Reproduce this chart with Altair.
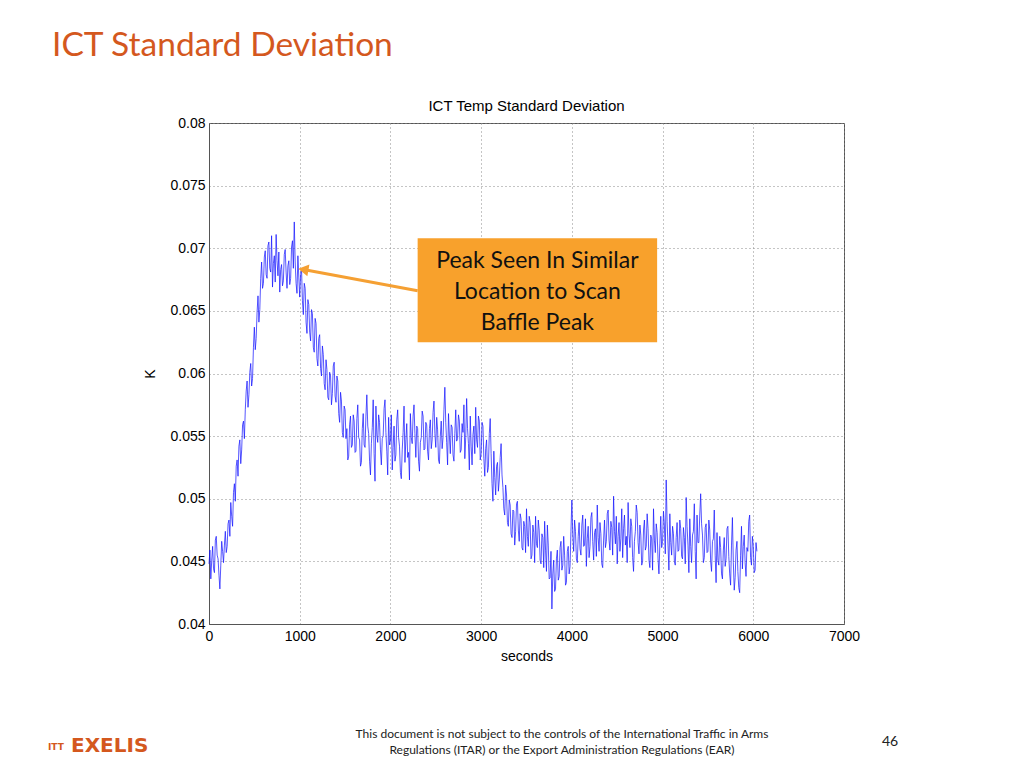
import altair as alt
import pandas as pd

# sample times (s) and standard deviation (K)
seconds = list(range(0, 6041, 10))
std_k = [
    0.0448, 0.0459, 0.0436, 0.0451, 0.0462, 0.0444, 0.0441, 0.0467, 0.0470, 0.0455, 0.0452, 0.0439, 0.0428, 0.0447, 0.0466, 0.0458, 0.0449, 0.0463, 0.0474, 0.0457,
    0.0462, 0.0480, 0.0483, 0.0470, 0.0497, 0.0486, 0.0478, 0.0505, 0.0512, 0.0498, 0.0526, 0.0531, 0.0518, 0.0542, 0.0547, 0.0528, 0.0539, 0.0559, 0.0562, 0.0548,
    0.0571, 0.0586, 0.0594, 0.0573, 0.0583, 0.0601, 0.0608, 0.0590, 0.0596, 0.0621, 0.0637, 0.0619, 0.0628, 0.0649, 0.0662, 0.0641, 0.0651, 0.0676, 0.0689, 0.0668,
    0.0672, 0.0693, 0.0698, 0.0679, 0.0676, 0.0702, 0.0705, 0.0684, 0.0681, 0.0710, 0.0669, 0.0688, 0.0694, 0.0673, 0.0711, 0.0690, 0.0678, 0.0697, 0.0665, 0.0683,
    0.0687, 0.0670, 0.0674, 0.0695, 0.0699, 0.0681, 0.0668, 0.0686, 0.0690, 0.0671, 0.0676, 0.0701, 0.0706, 0.0684, 0.0721, 0.0689, 0.0672, 0.0664, 0.0694, 0.0677,
    0.0661, 0.0679, 0.0684, 0.0658, 0.0647, 0.0672, 0.0668, 0.0641, 0.0632, 0.0659, 0.0655, 0.0633, 0.0626, 0.0651, 0.0648, 0.0621, 0.0617, 0.0644, 0.0640, 0.0612,
    0.0606, 0.0628, 0.0631, 0.0604, 0.0598, 0.0622, 0.0615, 0.0592, 0.0587, 0.0611, 0.0603, 0.0581, 0.0579, 0.0601, 0.0598, 0.0575, 0.0584, 0.0606, 0.0609, 0.0582,
    0.0577, 0.0598, 0.0594, 0.0568, 0.0561, 0.0585, 0.0578, 0.0553, 0.0549, 0.0574, 0.0571, 0.0548, 0.0556, 0.0531, 0.0534, 0.0559, 0.0566, 0.0541, 0.0543, 0.0567,
    0.0562, 0.0537, 0.0538, 0.0564, 0.0575, 0.0549, 0.0547, 0.0526, 0.0529, 0.0556, 0.0568, 0.0543, 0.0541, 0.0566, 0.0583, 0.0558, 0.0552, 0.0530, 0.0519, 0.0544,
    0.0557, 0.0579, 0.0536, 0.0514, 0.0574, 0.0551, 0.0545, 0.0567, 0.0561, 0.0539, 0.0527, 0.0548, 0.0550, 0.0572, 0.0579, 0.0553, 0.0538, 0.0519, 0.0565, 0.0543,
    0.0546, 0.0567, 0.0523, 0.0541, 0.0558, 0.0530, 0.0535, 0.0563, 0.0571, 0.0549, 0.0542, 0.0521, 0.0516, 0.0539, 0.0553, 0.0574, 0.0529, 0.0547, 0.0560, 0.0533,
    0.0537, 0.0515, 0.0568, 0.0549, 0.0544, 0.0566, 0.0575, 0.0552, 0.0533, 0.0558, 0.0556, 0.0530, 0.0522, 0.0545, 0.0549, 0.0570, 0.0566, 0.0539, 0.0540, 0.0561,
    0.0559, 0.0538, 0.0531, 0.0556, 0.0563, 0.0540, 0.0547, 0.0569, 0.0578, 0.0552, 0.0541, 0.0565, 0.0555, 0.0531, 0.0528, 0.0550, 0.0562, 0.0540, 0.0549, 0.0571,
    0.0589, 0.0561, 0.0545, 0.0527, 0.0568, 0.0550, 0.0536, 0.0559, 0.0557, 0.0535, 0.0530, 0.0552, 0.0571, 0.0546, 0.0548, 0.0567, 0.0562, 0.0537, 0.0539, 0.0560,
    0.0553, 0.0575, 0.0532, 0.0549, 0.0580, 0.0556, 0.0544, 0.0523, 0.0566, 0.0542, 0.0527, 0.0551, 0.0558, 0.0536, 0.0573, 0.0547, 0.0541, 0.0566, 0.0562, 0.0531,
    0.0536, 0.0561, 0.0558, 0.0532, 0.0518, 0.0540, 0.0547, 0.0521, 0.0525, 0.0552, 0.0564, 0.0536, 0.0512, 0.0498, 0.0538, 0.0517, 0.0503, 0.0526, 0.0529, 0.0506,
    0.0515, 0.0533, 0.0544, 0.0519, 0.0509, 0.0492, 0.0487, 0.0511, 0.0503, 0.0481, 0.0478, 0.0499, 0.0495, 0.0472, 0.0469, 0.0491, 0.0490, 0.0463, 0.0474, 0.0496,
    0.0498, 0.0475, 0.0466, 0.0488, 0.0484, 0.0461, 0.0459, 0.0482, 0.0478, 0.0457, 0.0492, 0.0470, 0.0462, 0.0486, 0.0481, 0.0452, 0.0455, 0.0479, 0.0473, 0.0449,
    0.0486, 0.0464, 0.0461, 0.0483, 0.0475, 0.0451, 0.0448, 0.0472, 0.0469, 0.0445, 0.0482, 0.0459, 0.0442, 0.0479, 0.0463, 0.0436, 0.0437, 0.0458, 0.0412, 0.0440,
    0.0451, 0.0426, 0.0428, 0.0452, 0.0459, 0.0435, 0.0438, 0.0461, 0.0466, 0.0443, 0.0447, 0.0470, 0.0455, 0.0431, 0.0433, 0.0458, 0.0462, 0.0440, 0.0446, 0.0474,
    0.0499, 0.0471, 0.0458, 0.0483, 0.0474, 0.0452, 0.0449, 0.0470, 0.0481, 0.0460, 0.0455, 0.0479, 0.0487, 0.0462, 0.0463, 0.0484, 0.0446, 0.0468, 0.0478, 0.0453,
    0.0462, 0.0485, 0.0489, 0.0466, 0.0451, 0.0473, 0.0476, 0.0454, 0.0495, 0.0469, 0.0458, 0.0481, 0.0472, 0.0448, 0.0445, 0.0467, 0.0483, 0.0461, 0.0466, 0.0488,
    0.0491, 0.0467, 0.0459, 0.0482, 0.0477, 0.0455, 0.0502, 0.0474, 0.0464, 0.0486, 0.0448, 0.0470, 0.0481, 0.0458, 0.0468, 0.0492, 0.0453, 0.0476, 0.0487, 0.0463,
    0.0470, 0.0449, 0.0497, 0.0472, 0.0461, 0.0484, 0.0478, 0.0453, 0.0442, 0.0466, 0.0474, 0.0495, 0.0489, 0.0465, 0.0456, 0.0479, 0.0471, 0.0447, 0.0450, 0.0475,
    0.0483, 0.0459, 0.0462, 0.0488, 0.0476, 0.0451, 0.0445, 0.0471, 0.0468, 0.0443, 0.0492, 0.0467, 0.0457, 0.0480, 0.0473, 0.0452, 0.0440, 0.0464, 0.0486, 0.0461,
    0.0466, 0.0490, 0.0479, 0.0456, 0.0515, 0.0482, 0.0463, 0.0443, 0.0488, 0.0465, 0.0455, 0.0478, 0.0472, 0.0450, 0.0447, 0.0469, 0.0481, 0.0458, 0.0459, 0.0483,
    0.0476, 0.0454, 0.0452, 0.0477, 0.0469, 0.0448, 0.0501, 0.0478, 0.0463, 0.0441, 0.0484, 0.0462, 0.0449, 0.0471, 0.0474, 0.0496, 0.0458, 0.0436, 0.0487, 0.0465,
    0.0465, 0.0487, 0.0504, 0.0480, 0.0471, 0.0449, 0.0453, 0.0477, 0.0480, 0.0457, 0.0458, 0.0483, 0.0475, 0.0450, 0.0442, 0.0466, 0.0468, 0.0491, 0.0455, 0.0433,
    0.0473, 0.0451, 0.0447, 0.0470, 0.0461, 0.0440, 0.0436, 0.0459, 0.0469, 0.0446, 0.0452, 0.0476, 0.0478, 0.0454, 0.0440, 0.0431, 0.0463, 0.0485, 0.0449, 0.0427,
    0.0437, 0.0459, 0.0466, 0.0442, 0.0429, 0.0425, 0.0455, 0.0478, 0.0444, 0.0462, 0.0471, 0.0449, 0.0438, 0.0461, 0.0458, 0.0482, 0.0487, 0.0453, 0.0447, 0.0470,
    0.0462, 0.0441, 0.0443, 0.0465, 0.0458,
]

x_ticks = [0, 1000, 2000, 3000, 4000, 5000, 6000, 7000]
y_ticks = [0.04, 0.045, 0.05, 0.055, 0.06, 0.065, 0.07, 0.075, 0.08]

slide_title = "ICT Standard Deviation"
plot_title = "ICT Temp Standard Deviation"
note_text = "Peak Seen In Similar\nLocation to Scan\nBaffle Peak"
footer_text = ("This document is not subject to the controls of the International Traffic in Arms\n"
               "Regulations (ITAR) or the Export Administration Regulations (EAR)")
page_no = "46"

# annotation box and arrow, in data coordinates
note_box = {"x": 2300, "x2": 4940, "y": 0.0625, "y2": 0.0708}
arrow = {"x": 2300, "y": 0.0666, "x2": 1040, "y2": 0.0683}

W, H = 635, 501
df = pd.DataFrame({"seconds": seconds, "std": std_k})

xscale = alt.Scale(domain=[0, 7000], nice=False, zero=False)
yscale = alt.Scale(domain=[0.04, 0.08], nice=False, zero=False)

line = alt.Chart(df).mark_line(color="#1414ff", strokeWidth=0.8, opacity=0.9).encode(
    x=alt.X("seconds:Q", scale=xscale,
            axis=alt.Axis(values=x_ticks, format="d", title="seconds", titlePadding=6,
                          labelPadding=5, labelFlush=False)),
    y=alt.Y("std:Q", scale=yscale,
            axis=alt.Axis(values=y_ticks, format=".3~f", title="K", titlePadding=12,
                          labelPadding=4, titleAngle=-90, labelFlush=False)),
)

box = alt.Chart(alt.Data(values=[note_box])).mark_rect(color="#F8A12C").encode(
    x=alt.X("x:Q", scale=xscale), x2="x2:Q",
    y=alt.Y("y:Q", scale=yscale), y2="y2:Q",
)

arrow_line = alt.Chart(alt.Data(values=[arrow])).mark_rule(color="#F5A033", strokeWidth=3).encode(
    x=alt.X("x:Q", scale=xscale), x2="x2:Q",
    y=alt.Y("y:Q", scale=yscale), y2="y2:Q",
)
arrow_head = alt.Chart(alt.Data(values=[{"x": arrow["x2"], "y": arrow["y2"]}])).mark_point(
    shape="triangle-left", filled=True, color="#F5A033", size=140, opacity=1, angle=10
).encode(x=alt.X("x:Q", scale=xscale), y=alt.Y("y:Q", scale=yscale))

note = alt.Chart(alt.Data(values=[{"x": (note_box["x"] + note_box["x2"]) / 2,
                                   "y": (note_box["y"] + note_box["y2"]) / 2}])).mark_text(
    font="Lato", fontSize=23, color="#111", lineBreak="\n", lineHeight=31, align="center",
    baseline="middle", dy=-29
).encode(x=alt.X("x:Q", scale=xscale), y=alt.Y("y:Q", scale=yscale), text=alt.value(note_text))

one = alt.Data(values=[{}])

t_slide = alt.Chart(one).mark_text(font="Lato", fontSize=33.5, color="#D4581E", align="left",
                                   baseline="alphabetic").encode(
    x=alt.value(-157), y=alt.value(-67), text=alt.value(slide_title))
t_plot = alt.Chart(one).mark_text(font="Liberation Sans", fontSize=15, color="#000",
                                  align="center", baseline="middle").encode(
    x=alt.value(W / 2), y=alt.value(-17), text=alt.value(plot_title))
t_footer = alt.Chart(one).mark_text(font="Lato", fontSize=12, color="#222", align="center",
                                    baseline="middle", lineBreak="\n", lineHeight=16).encode(
    x=alt.value(353), y=alt.value(611), text=alt.value(footer_text))
t_page = alt.Chart(one).mark_text(font="Lato", fontSize=14, color="#222", align="center",
                                  baseline="middle").encode(
    x=alt.value(681), y=alt.value(619), text=alt.value(page_no))
t_itt = alt.Chart(one).mark_text(font="DejaVu Sans", fontSize=9, fontWeight="bold",
                                 color="#D4581E", align="left", baseline="alphabetic").encode(
    x=alt.value(-161), y=alt.value(627), text=alt.value("ITT"))
t_exelis = alt.Chart(one).mark_text(font="DejaVu Sans", fontSize=20, fontWeight="bold",
                                    color="#D4581E", align="left", baseline="alphabetic").encode(
    x=alt.value(-138), y=alt.value(629), text=alt.value("EXELIS"))

chart = alt.layer(
    line, box, arrow_line, arrow_head, note,
    t_slide, t_plot, t_footer, t_page, t_itt, t_exelis
).properties(
    width=W, height=H,
    autosize=alt.AutoSizeParams(type="none"),
    padding={"left": 201, "top": 115, "right": 172, "bottom": 136},
    background="white",
).configure_axis(
    labelFont="Liberation Sans", labelFontSize=14, labelColor="#000",
    titleFont="Liberation Sans", titleFontSize=14, titleColor="#000", titleFontWeight="normal",
    grid=True, gridColor="#8a8a8a", gridDash=[1, 3], gridWidth=1,
    domainColor="#555", ticks=False,
).configure_view(stroke="#555", strokeWidth=1)

chart.save("out.html", embed_options={"renderer": "svg", "actions": False})
